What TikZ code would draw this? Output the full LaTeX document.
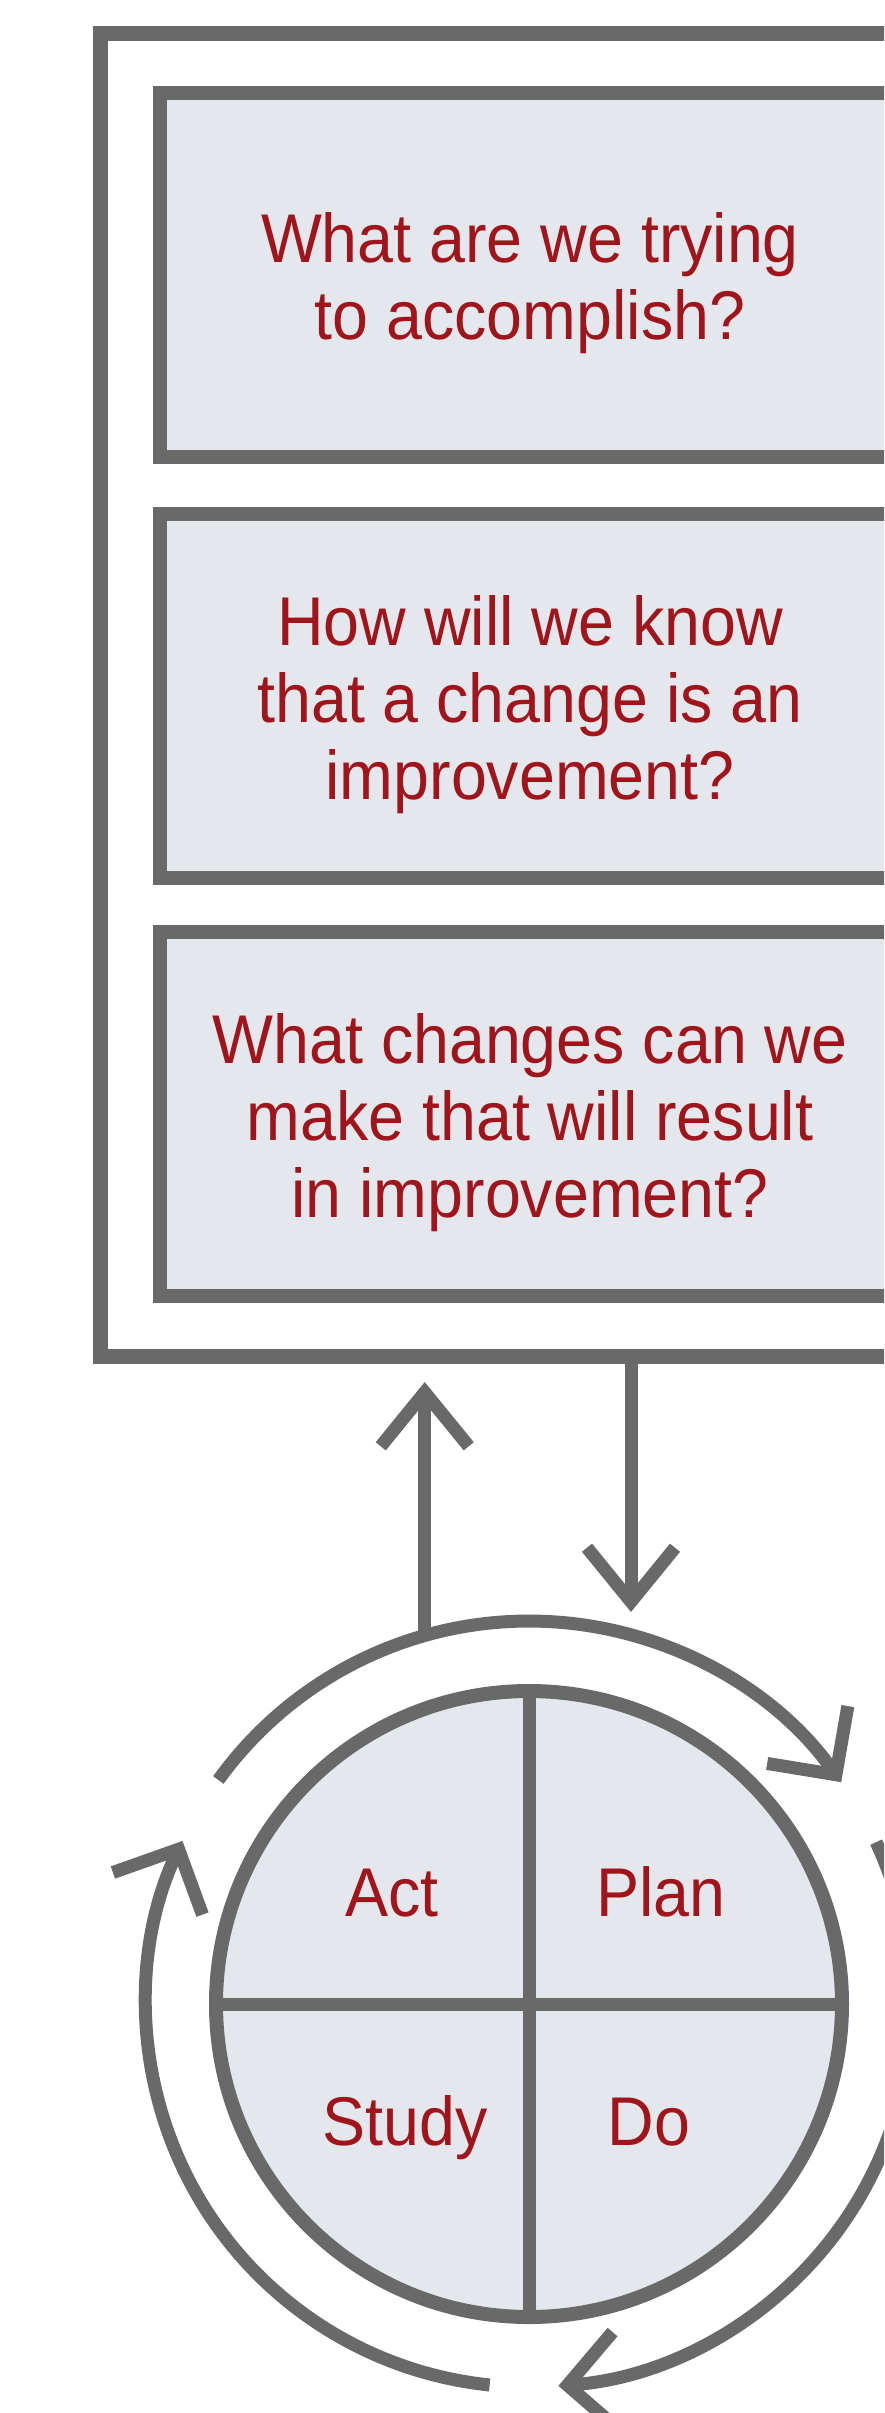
\documentclass[tikz,border=0pt]{standalone}
\usepackage{fontspec}
\newfontfamily\labfont[FakeStretch=0.935]{Liberation Sans}
\usetikzlibrary{arrows.meta,calc}
\definecolor{linegray}{HTML}{696969}
\definecolor{boxfill}{HTML}{E4E7EC}
\definecolor{qred}{HTML}{A0151B}
\begin{document}
\begin{tikzpicture}[x=1pt,y=-1pt,
  framebox/.style={draw=linegray, line width=15pt, minimum width=860pt, minimum height=1323pt, inner sep=0pt},
  qbox/.style={draw=linegray, fill=boxfill, line width=14pt, minimum width=740pt, minimum height=364pt, inner sep=0pt},
  qtext/.style={text=qred, font=\labfont\fontsize{69}{77}\selectfont, align=center, inner sep=0pt},
  wheel/.style={draw=linegray, fill=boxfill, line width=14pt, circle, minimum size=626pt, inner sep=0pt},
  divline/.style={draw=linegray, line width=13pt},
  arcarrow/.style={draw=linegray, line width=13pt, -{Straight Barb[length=49pt,width=99pt]}},
  strarrow/.style={draw=linegray, line width=13pt, -{Straight Barb[length=54pt,width=88pt]}}
]
\useasboundingbox (0,0) rectangle (884,2413);
\fill[white] (0,0) rectangle (884,2413);
\clip (0,0) rectangle (884,2413);

% outer frame and question boxes
\node[framebox] (frame) at (530,694.5) {};
\node[qbox] (q1) at (530,274.5) {};
\node[qbox] (q2) at (530,695.5) {};
\node[qbox] (q3) at (530,1114) {};
\node[qtext, yshift=-9pt] (t1) at (q1.center) {What are we trying\\to accomplish?};
\node[qtext, yshift=-9pt] (t2) at (q2.center) {How will we know\\that a change is an\\improvement?};
\node[qtext, yshift=-9pt] (t3) at (q3.center) {What changes can we\\make that will result\\in improvement?};

% PDSA wheel
\coordinate (cc) at (529,2004);
\node[wheel] (pdsa) at (cc) {};
\draw[divline] (pdsa.north) -- (pdsa.south);
\draw[divline] (pdsa.west) -- (pdsa.east);
\node[qtext, anchor=base] (act) at (392,1916) {Act};
\node[qtext, anchor=base] (plan) at (661,1916) {Plan};
\node[qtext, anchor=base] (study) at (405,2145) {Study};
\node[qtext, anchor=base] (do) at (649,2145) {Do};

% cycle arrows
\draw[arcarrow] ($(cc)+(-144.2:383)$) arc[start angle=-144.2, end angle=-35.4, radius=383];
\draw[arcarrow] ($(cc)+(-25:383)$) arc[start angle=-25, end angle=85.6, radius=383];
\draw[arcarrow] ($(cc)+(95.9:383)$) arc[start angle=95.9, end angle=205.2, radius=383];

% arrows between frame and wheel
\coordinate (upfoot) at ($(cc)+(-105.8:383)$);
\coordinate (uplevel) at (0,1382);
\coordinate (uptip) at (upfoot |- uplevel);
\draw[strarrow] (upfoot) -- (uptip);
\coordinate (downtip) at (631,1612);
\draw[strarrow] (downtip |- frame.south) -- (downtip);
\end{tikzpicture}
\end{document}
